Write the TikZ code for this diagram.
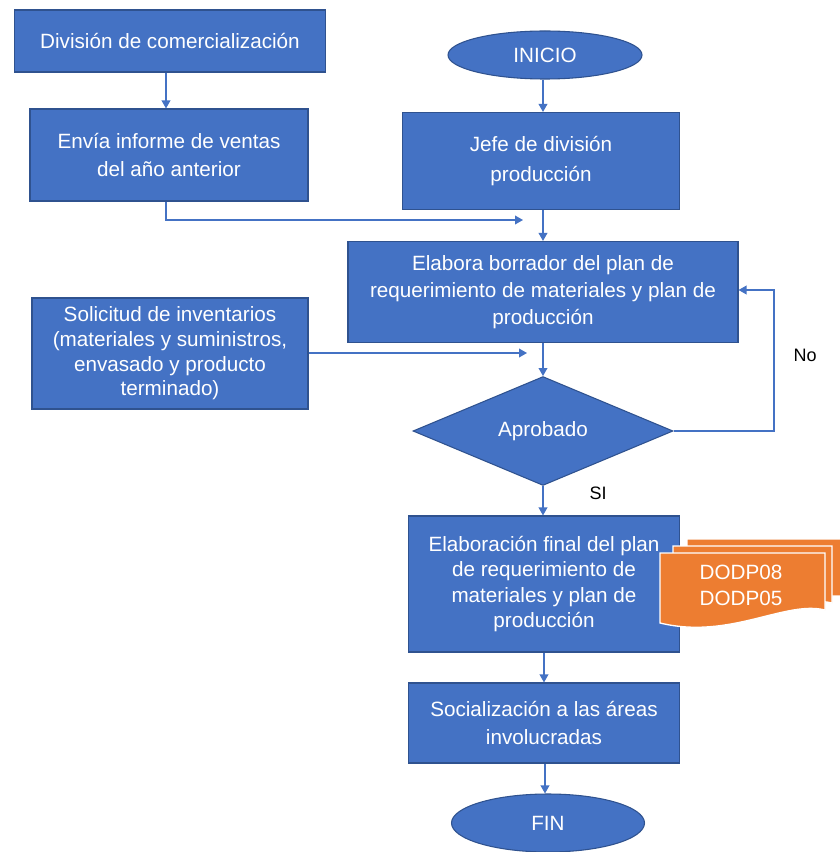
\documentclass[tikz,border=0pt]{standalone}
\usepackage{fontspec}
\setmainfont{Liberation Sans}
\usetikzlibrary{shapes.geometric,arrows.meta}
\definecolor{boxblue}{HTML}{4472C4}
\definecolor{boxedge}{HTML}{2F528F}
\definecolor{docorange}{HTML}{ED7D31}
\tikzset{
  fs/.style={font=\fontsize{15.5pt}{#1}\selectfont},
  box/.style={rectangle, draw=boxedge, line width=0.8pt, fill=boxblue, text=white, align=center, inner sep=2pt},
  term/.style={ellipse, draw=boxedge, line width=0.8pt, fill=boxblue, text=white, inner sep=0pt, fs=19pt},
  decis/.style={diamond, draw=boxedge, line width=0.8pt, fill=boxblue, text=white, inner sep=0pt, fs=19pt},
  arr/.style={draw=boxblue, line width=1.1pt, -{Triangle[length=6pt,width=6.5pt]}},
  lbl/.style={text=black, font=\fontsize{13.5pt}{16pt}\selectfont, inner sep=0pt},
  docshape/.style={fill=docorange, draw=white, line width=1pt},
}
\begin{document}
\begin{tikzpicture}[x=0.75pt,y=-0.75pt]
\useasboundingbox (0,0) rectangle (839,852);
\fill[white] (0,0) rectangle (839,852);

% left column
\node[box, fs=19pt, minimum width=233.25pt, minimum height=46.5pt] (b1) at (170,41) {División de comercialización};
\node[box, fs=21pt, minimum width=208.5pt, minimum height=69pt] (b2) at (169,155) {Envía informe de ventas\\del año anterior};
\node[box, fs=18.5pt, minimum width=207pt, minimum height=83.25pt] (sol) at (170,353.5) {Solicitud de inventarios\\(materiales y suministros,\\envasado y producto\\terminado)};

% main column
\node[term, minimum width=145.5pt, minimum height=36pt] (ini) at (545,55) {INICIO};
\node[box, fs=22.5pt, minimum width=207.75pt, minimum height=72.75pt] (jefe) at (541,161) {Jefe de división\\producción};
\node[box, fs=20pt, minimum width=292.5pt, minimum height=75.75pt] (elab) at (543,292) {Elabora borrador del plan de\\requerimiento de materiales y plan de\\producción};
\node[decis, minimum width=195pt, minimum height=81pt] (apro) at (543,431) {Aprobado};
\node[box, fs=19pt, minimum width=203.25pt, minimum height=102pt] (fin1) at (544,584) {Elaboración final del plan\\de requerimiento de\\materiales y plan de\\producción};
\node[box, fs=21pt, minimum width=203.25pt, minimum height=60pt] (soc) at (544,723) {Socialización a las áreas\\involucradas};
\node[term, minimum width=144.75pt, minimum height=43.5pt] (fin) at (548,823) {FIN};

% coordinates for connectors
\coordinate (m1) at (523,220);
\coordinate (m2) at (527,353);
\coordinate (lp) at (774,290);

% connectors
\draw[arr] (b1.south -| 166,0) -- (b2.north -| 166,0);
\draw[arr] (b2.south -| 166,0) |- (m1);
\draw[arr] (ini.south -| 543,0) -- (jefe.north -| 543,0);
\draw[arr] (jefe.south -| 543,0) -- (elab.north -| 543,0);
\draw[arr] (sol.east |- m2) -- (m2);
\draw[arr] (elab.south -| 543,0) -- (apro.north);
\draw[arr] (apro.east) -| (lp) -- (elab.east |- lp);
\draw[arr] (apro.south) -- (fin1.north -| 543,0);
\draw[arr] (fin1.south -| 544,0) -- (soc.north -| 544,0);
\draw[arr] (soc.south -| 545,0) -- (fin.north -| 545,0);

\node[lbl] (no) at (805,355) {No};
\node[lbl] (si) at (598,493) {SI};

% multi-document
\path[docshape] (687,539) -- (850,539) -- (850,597) .. controls (810,590) and (760,620) .. (687,605) -- cycle;
\path[docshape] (673,546) -- (832,546) -- (832,603) .. controls (795,594) and (745,628) .. (673,614) -- cycle;
\path[docshape] (660,553) -- (825,553) -- (825,610) .. controls (785,600) and (730,640) .. (660,623) -- cycle;
\node[text=white, align=center, font=\fontsize{15.5pt}{19.5pt}\selectfont, inner sep=0pt] (doc) at (741,585) {DODP08\\DODP05};
\end{tikzpicture}
\end{document}
